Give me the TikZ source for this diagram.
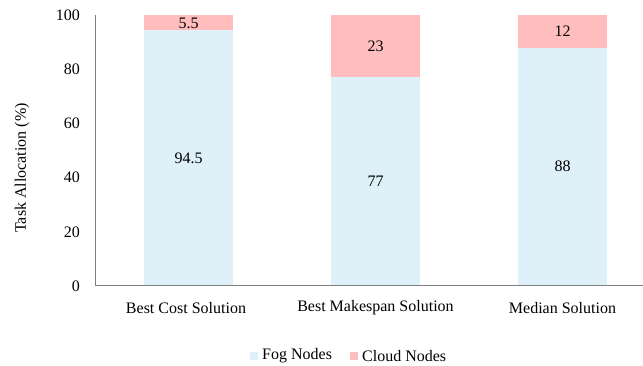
\documentclass[tikz,border=0pt]{standalone}
\usepackage{fontspec}
\setmainfont{Liberation Serif}
\definecolor{fogc}{HTML}{DEF1F9}
\definecolor{cloudc}{HTML}{FFBDBD}
\definecolor{axisc}{HTML}{7F7F7F}
\begin{document}
\begin{tikzpicture}[x=1pt,y=1pt,
  txt/.style={font=\fontsize{16}{19}\selectfont, inner sep=0pt},
  axisline/.style={draw=axisc, line width=1pt},
  fogbar/.style={fill=fogc},
  cloudbar/.style={fill=cloudc}]
\useasboundingbox (0,0) rectangle (643,366);
\begin{scope}[y=2.71pt, yshift=80pt]
  % bars
  \fill[fogbar] (144,0) rectangle (233,94.5);
  \fill[cloudbar] (144,94.5) rectangle (233,100);
  \fill[fogbar] (331,0) rectangle (420,77);
  \fill[cloudbar] (331,77) rectangle (420,100);
  \fill[fogbar] (518,0) rectangle (607,88);
  \fill[cloudbar] (518,88) rectangle (607,100);
  % value labels
  \node[txt] (f1) at (188.5,47.25) {94.5};
  \node[txt] (c1) at (188.5,97.0) {5.5};
  \node[txt] (f2) at (375.5,38.5) {77};
  \node[txt] (c2) at (375.5,88.5) {23};
  \node[txt] (f3) at (562.5,44) {88};
  \node[txt] (c3) at (562.5,94) {12};
  % axes
  \coordinate (o) at (95,0);
  \coordinate (ytop) at (95,100);
  \coordinate (xend) at (643,0);
  \draw[axisline] (ytop) -- (o) -- (xend);
  % tick labels
  \foreach \v in {0,20,40,60,80,100}
    \node[txt, anchor=east] (t\v) at (80,\v) {\v};
  % category labels
  \node[txt] (cat1) at (186,-8.1) {Best Cost Solution};
  \node[txt] (cat2) at (375.5,-8.1) {Best Makespan Solution};
  \node[txt] (cat3) at (562.5,-8.1) {Median Solution};
\end{scope}
\node[txt, rotate=90] (ylab) at (22,198) {Task Allocation (\%)};
% legend
\fill[fogbar] (250,6) rectangle (258,14);
\node[txt, anchor=west] (lf) at (262,10) {Fog Nodes};
\fill[cloudbar] (350,6) rectangle (358,14);
\node[txt, anchor=west] (lc) at (362,10) {Cloud Nodes};
\end{tikzpicture}
\end{document}
